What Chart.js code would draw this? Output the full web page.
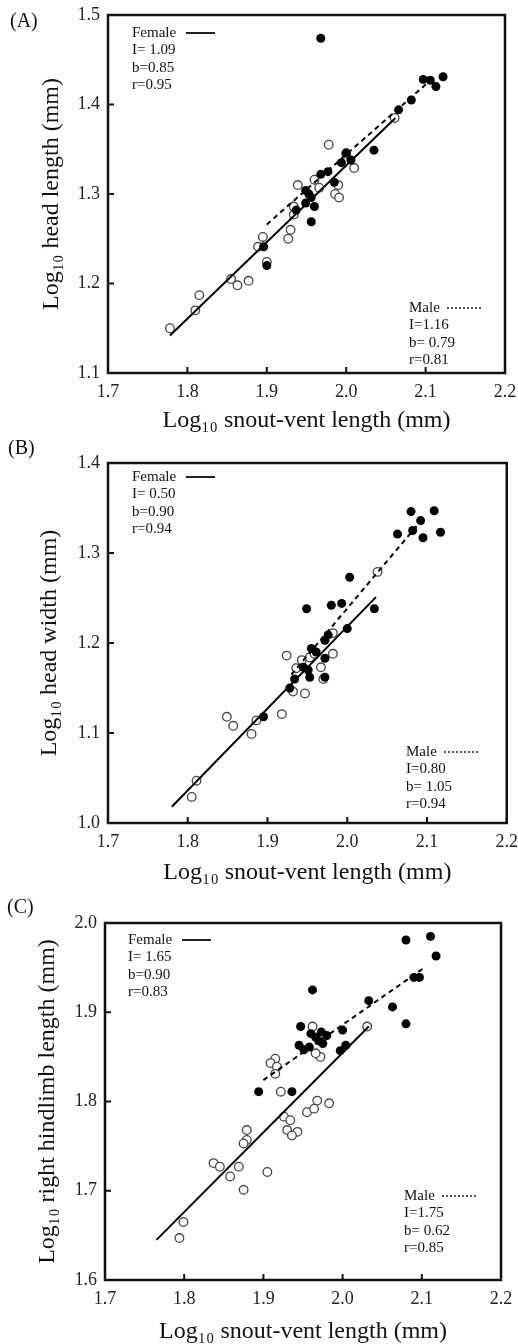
<!DOCTYPE html>
<html>
<head>
<meta charset="utf-8">
<script src="https://cdn.jsdelivr.net/npm/chart.js@4.4.1/dist/chart.umd.min.js"></script>
<style>
  html, body { margin: 0; padding: 0; background: #fff; }
  body { width: 518px; height: 1344px; position: relative; overflow: hidden; }
  canvas { position: absolute; left: 0; }
</style>
</head>
<body>
<canvas id="chartA" width="518" height="440" style="top:0px"></canvas>
<canvas id="chartB" width="518" height="450" style="top:440px"></canvas>
<canvas id="chartC" width="518" height="454" style="top:890px"></canvas>
<script>
// tick labels
const xTickLabels = ['1.7', '1.8', '1.9', '2.0', '2.1', '2.2'];
const yTicksA = ['1.1', '1.2', '1.3', '1.4', '1.5'];
const yTicksB = ['1.0', '1.1', '1.2', '1.3', '1.4'];
const yTicksC = ['1.6', '1.7', '1.8', '1.9', '2.0'];

// (A) head length - females (open), males (filled)
const headLenFemaleX = [1.778, 1.81, 1.815, 1.855, 1.863, 1.877, 1.889, 1.895, 1.9, 1.927, 1.93, 1.934, 1.934, 1.939, 1.96, 1.966, 1.978, 1.986, 1.99, 1.991, 2.0, 2.01, 2.061];
const headLenFemaleY = [1.150, 1.170, 1.187, 1.205, 1.198, 1.203, 1.241, 1.252, 1.224, 1.250, 1.260, 1.277, 1.286, 1.310, 1.316, 1.307, 1.355, 1.300, 1.310, 1.296, 1.345, 1.329, 1.385];
const headLenMaleX = [1.968, 2.097, 2.106, 2.122, 2.113, 2.082, 2.066, 2.035, 2.0, 2.006, 1.994, 1.977, 1.968, 1.985, 1.949, 1.953, 1.956, 1.949, 1.96, 1.956, 1.937, 1.9, 1.896];
const headLenMaleY = [1.474, 1.428, 1.427, 1.431, 1.420, 1.405, 1.394, 1.349, 1.346, 1.338, 1.335, 1.325, 1.322, 1.313, 1.304, 1.300, 1.296, 1.290, 1.286, 1.269, 1.282, 1.220, 1.241];
const headLenFemaleFit = [[1.778, 1.142], [2.062, 1.385]];
const headLenMaleFit = [[1.90, 1.266], [2.11, 1.430]];

// (B) head width
const headWidFemaleX = [1.805, 1.811, 1.849, 1.857, 1.88, 1.886, 1.918, 1.924, 1.932, 1.936, 1.943, 1.947, 1.953, 1.959, 1.967, 1.97, 1.982, 1.982, 2.038];
const headWidFemaleY = [1.029, 1.047, 1.118, 1.108, 1.099, 1.114, 1.121, 1.186, 1.146, 1.172, 1.181, 1.144, 1.184, 1.188, 1.173, 1.160, 1.188, 1.211, 1.279];
const headWidMaleX = [2.080, 2.109, 2.092, 2.082, 2.063, 2.095, 2.117, 2.003, 1.980, 1.993, 1.949, 2.034, 2.000, 1.976, 1.972, 1.955, 1.961, 1.972, 1.945, 1.951, 1.953, 1.972, 1.934, 1.928, 1.895];
const headWidMaleY = [1.346, 1.347, 1.336, 1.325, 1.321, 1.317, 1.323, 1.273, 1.242, 1.244, 1.238, 1.238, 1.216, 1.209, 1.203, 1.194, 1.190, 1.183, 1.173, 1.170, 1.162, 1.162, 1.160, 1.150, 1.118];
const headWidFemaleFit = [[1.78, 1.018], [2.036, 1.251]];
const headWidMaleFit = [[1.93, 1.165], [2.09, 1.333]];

// (C) right hindlimb length
const limbFemaleX = [1.962, 1.972, 1.966, 1.915, 1.909, 1.917, 1.915, 1.922, 1.968, 1.983, 1.955, 1.964, 1.926, 1.934, 1.93, 1.943, 1.936, 1.879, 1.879, 1.875, 1.837, 1.845, 1.858, 1.869, 1.905, 1.875, 1.799, 1.794, 2.031];
const limbFemaleY = [1.884, 1.850, 1.854, 1.848, 1.843, 1.839, 1.831, 1.811, 1.801, 1.798, 1.788, 1.792, 1.783, 1.779, 1.768, 1.766, 1.762, 1.768, 1.757, 1.753, 1.731, 1.727, 1.716, 1.727, 1.721, 1.701, 1.665, 1.647, 1.884];
const limbMaleX = [2.080, 2.111, 2.118, 2.090, 2.097, 1.962, 2.033, 2.063, 2.080, 1.947, 2.000, 1.960, 1.966, 1.973, 1.980, 1.970, 1.975, 1.945, 1.951, 1.958, 1.997, 2.004, 1.894, 1.936];
const limbMaleY = [1.981, 1.985, 1.963, 1.939, 1.939, 1.925, 1.913, 1.906, 1.887, 1.884, 1.880, 1.876, 1.872, 1.878, 1.874, 1.868, 1.865, 1.863, 1.858, 1.861, 1.857, 1.863, 1.811, 1.811];
const limbFemaleFit = [[1.765, 1.645], [2.033, 1.884]];
const limbMaleFit = [[1.90, 1.824], [2.105, 1.951]];

// regression stats text
const statsFemaleA = ['I= 1.09', 'b=0.85', 'r=0.95'];
const statsMaleA = ['I=1.16', 'b= 0.79', 'r=0.81'];
const statsFemaleB = ['I= 0.50', 'b=0.90', 'r=0.94'];
const statsMaleB = ['I=0.80', 'b= 1.05', 'r=0.94'];
const statsFemaleC = ['I= 1.65', 'b=0.90', 'r=0.83'];
const statsMaleC = ['I=1.75', 'b= 0.62', 'r=0.85'];

const SERIF = '"Liberation Serif", "Times New Roman", serif';

function zip(xs, ys) {
    return xs.map((x, i) => ({ x: x, y: ys[i] }));
}

// closed frame + inward tick marks
const framePlugin = {
    id: 'frame',
    afterDraw(chart) {
        const { ctx, chartArea: a, scales: { x, y } } = chart;
        ctx.save();
        ctx.strokeStyle = '#111';
        ctx.lineWidth = 2;
        x.ticks.forEach(t => {
            const px = x.getPixelForValue(t.value);
            ctx.beginPath(); ctx.moveTo(px, a.bottom); ctx.lineTo(px, a.bottom - 6); ctx.stroke();
        });
        y.ticks.forEach(t => {
            const py = y.getPixelForValue(t.value);
            ctx.beginPath(); ctx.moveTo(a.left, py); ctx.lineTo(a.left + 6, py); ctx.stroke();
        });
        ctx.lineWidth = 2.5;
        ctx.strokeRect(a.left, a.top, a.right - a.left, a.bottom - a.top);
        ctx.restore();
    }
};

// panel letter and the regression notes
const notesPlugin = {
    id: 'notes',
    afterDraw(chart, args, o) {
        const ctx = chart.ctx;
        ctx.save();
        ctx.fillStyle = '#111';
        ctx.textBaseline = 'middle';
        ctx.font = '20px ' + SERIF;
        ctx.fillText(o.label, o.labelX, o.labelY);

        ctx.font = '15px ' + SERIF;
        ['Female'].concat(o.female).forEach((s, i) => ctx.fillText(s, o.fx, o.fy + i * 17.5));
        ['Male'].concat(o.male).forEach((s, i) => ctx.fillText(s, o.mx, o.my + i * 17.5));

        ctx.strokeStyle = '#222';
        ctx.lineWidth = 2;
        ctx.beginPath(); ctx.moveTo(o.fx + 54, o.fy); ctx.lineTo(o.fx + 83, o.fy); ctx.stroke();
        ctx.lineWidth = 1.5;
        ctx.setLineDash([2, 2]);
        ctx.beginPath(); ctx.moveTo(o.mx + 38, o.my); ctx.lineTo(o.mx + 72, o.my); ctx.stroke();
        ctx.restore();
    }
};

function makeChart(id, p) {
    return new Chart(document.getElementById(id), {
        type: 'scatter',
        data: {
            datasets: [
                { data: p.fFit.map(d => ({ x: d[0], y: d[1] })), showLine: true, borderColor: '#000', borderWidth: 2, pointRadius: 0 },
                { data: p.mFit.map(d => ({ x: d[0], y: d[1] })), showLine: true, borderColor: '#000', borderWidth: 2, borderDash: [5, 4], pointRadius: 0 },
                { data: zip(p.mX, p.mY), backgroundColor: '#000', borderColor: '#000', borderWidth: 0, pointRadius: 4.5 },
                { data: zip(p.fX, p.fY), backgroundColor: '#fff', borderColor: '#444', borderWidth: 1.3, pointRadius: 4.3 }
            ]
        },
        options: {
            responsive: false,
            animation: false,
            layout: { padding: { left: 0, top: p.top, right: 518 - p.right, bottom: 0 } },
            plugins: {
                legend: { display: false },
                tooltip: { enabled: false },
                notes: p.notes
            },
            scales: {
                x: {
                    type: 'linear', min: 1.7, max: 2.2,
                    afterBuildTicks: s => { s.ticks = xTickLabels.map(l => ({ value: +l })); },
                    afterFit: s => { s.height = p.h - p.bottom; },
                    grid: { display: false },
                    border: { display: false },
                    ticks: { padding: 0, color: '#222', font: { family: SERIF, size: 18 }, callback: (v, i) => xTickLabels[i] },
                    title: {
                        display: true, text: 'Log₁₀ snout-vent length (mm)', color: '#111',
                        font: { family: SERIF, size: 24, lineHeight: 1 },
                        padding: { top: 0, bottom: p.h - p.xTitleY - 12 }
                    }
                },
                y: {
                    type: 'linear', min: +p.yTicks[0], max: +p.yTicks[p.yTicks.length - 1],
                    afterBuildTicks: s => { s.ticks = p.yTicks.map(l => ({ value: +l })); },
                    afterFit: s => { s.width = p.left; },
                    grid: { display: false },
                    border: { display: false },
                    ticks: { padding: 0, color: '#222', font: { family: SERIF, size: 18 }, callback: (v, i) => p.yTicks[i] },
                    title: {
                        display: true, text: p.yTitle, color: '#111',
                        font: { family: SERIF, size: 24, lineHeight: 1 },
                        padding: { top: p.yTitleX - 12, bottom: 0 }
                    }
                }
            }
        },
        plugins: [framePlugin, notesPlugin]
    });
}

makeChart('chartA', {
    h: 440, left: 108, top: 15, right: 505, bottom: 373, xTitleY: 421, yTitleX: 52,
    yTicks: yTicksA, yTitle: 'Log₁₀ head length (mm)',
    fX: headLenFemaleX, fY: headLenFemaleY, mX: headLenMaleX, mY: headLenMaleY,
    fFit: headLenFemaleFit, mFit: headLenMaleFit,
    notes: { label: '(A)', labelX: 10, labelY: 22, female: statsFemaleA, male: statsMaleA, fx: 132, fy: 33, mx: 409, my: 308 }
});

makeChart('chartB', {
    h: 450, left: 108, top: 23, right: 507, bottom: 383, xTitleY: 433, yTitleX: 50,
    yTicks: yTicksB, yTitle: 'Log₁₀ head width (mm)',
    fX: headWidFemaleX, fY: headWidFemaleY, mX: headWidMaleX, mY: headWidMaleY,
    fFit: headWidFemaleFit, mFit: headWidMaleFit,
    notes: { label: '(B)', labelX: 8, labelY: 9, female: statsFemaleB, male: statsMaleB, fx: 132, fy: 37, mx: 406, my: 312 }
});

makeChart('chartC', {
    h: 454, left: 105, top: 33, right: 501, bottom: 390, xTitleY: 442, yTitleX: 48,
    yTicks: yTicksC, yTitle: 'Log₁₀ right hindlimb length (mm)',
    fX: limbFemaleX, fY: limbFemaleY, mX: limbMaleX, mY: limbMaleY,
    fFit: limbFemaleFit, mFit: limbMaleFit,
    notes: { label: '(C)', labelX: 7, labelY: 18, female: statsFemaleC, male: statsMaleC, fx: 128, fy: 50, mx: 404, my: 306 }
});
</script>
</body>
</html>
